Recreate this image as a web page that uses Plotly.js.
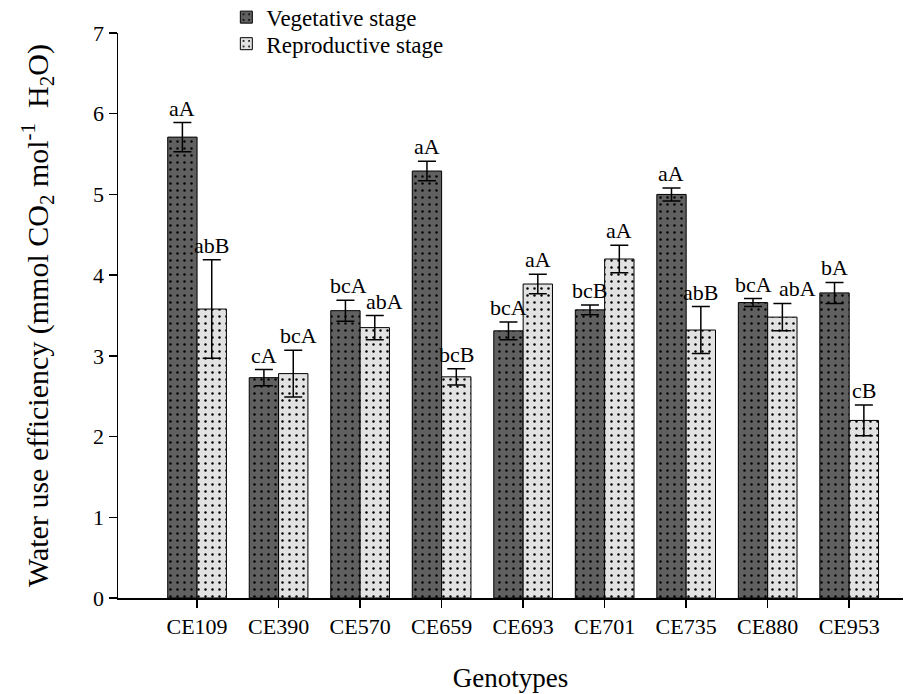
<!DOCTYPE html>
<html>
<head>
<meta charset="utf-8">
<script src="https://cdn.plot.ly/plotly-3.0.1.min.js"></script>
<style>html,body{margin:0;padding:0;background:#fff;}#chart{width:923px;height:694px;}</style>
</head>
<body>
<div id="chart"></div>
<script>
const genotypes = ["CE109","CE390","CE570","CE659","CE693","CE701","CE735","CE880","CE953"];
const vegValues = [5.71, 2.73, 3.56, 5.29, 3.31, 3.57, 5.00, 3.66, 3.78];
const vegErrors = [0.18, 0.10, 0.13, 0.12, 0.11, 0.06, 0.08, 0.05, 0.13];
const repValues = [3.58, 2.78, 3.35, 2.74, 3.89, 4.20, 3.32, 3.48, 2.20];
const repErrors = [0.61, 0.29, 0.15, 0.10, 0.12, 0.17, 0.29, 0.17, 0.19];
const vegLetters = ["aA","cA","bcA","aA","bcA","bcB","aA","bcA","bA"];
const repLetters = ["abB","bcA","abA","bcB","aA","aA","abB","abA","cB"];
const yTicks = [0,1,2,3,4,5,6,7];

const font = "Liberation Serif";
// small horizontal nudges (px) for labels that would otherwise collide
const repLabelShift = {"CE390": 5, "CE570": 10, "CE880": 15};
const vegLabelShift = {"CE570": 3};

const traces = [
  {
    type: "bar", name: "Vegetative stage", x: genotypes, y: vegValues, legend: "legend",
    marker: {color: "#606060", line: {color: "#000", width: 1},
      pattern: {shape: ".", fgcolor: "#000", bgcolor: "#606060", size: 7, solidity: 0.1}},
    error_y: {type: "data", array: vegErrors, visible: true, color: "#000", thickness: 1.5, width: 9}
  },
  {
    type: "bar", name: "Reproductive stage", x: genotypes, y: repValues, legend: "legend2",
    marker: {color: "#e2e2e2", line: {color: "#000", width: 1},
      pattern: {shape: ".", fgcolor: "#000", bgcolor: "#e2e2e2", size: 7, solidity: 0.1}},
    error_y: {type: "data", array: repErrors, visible: true, color: "#000", thickness: 1.5, width: 9}
  }
];

const annotations = [];
genotypes.forEach((g, i) => {
  annotations.push({x: i - 0.18, y: vegValues[i] + vegErrors[i], xref: "x", yref: "y",
    text: vegLetters[i], showarrow: false, yanchor: "bottom", yshift: 0, xshift: vegLabelShift[g] || 0,
    font: {family: font, size: 22, color: "#000"}});
  annotations.push({x: i + 0.18, y: repValues[i] + repErrors[i], xref: "x", yref: "y",
    text: repLetters[i], showarrow: false, yanchor: "bottom", yshift: 0, xshift: repLabelShift[g] || 0,
    font: {family: font, size: 22, color: "#000"}});
});

const legendCommon = {x: 0.138, xanchor: "left", yanchor: "middle",
  orientation: "v", font: {family: font, size: 23, color: "#000"}, bgcolor: "rgba(0,0,0,0)", tracegroupgap: 0};

const layout = {
  width: 923, height: 694,
  margin: {l: 118, r: 20, t: 33, b: 96, autoexpand: false},
  paper_bgcolor: "#fff", plot_bgcolor: "#fff",
  font: {family: font, size: 22, color: "#000"},
  barmode: "group", bargap: 0.28, bargroupgap: 0,
  showlegend: true,
  legend: Object.assign({}, legendCommon, {y: 1.028}),
  legend2: Object.assign({}, legendCommon, {y: 0.981}),
  xaxis: {
    type: "category", range: [-0.97, 8.66], showgrid: false, zeroline: false,
    showline: true, linecolor: "#000", linewidth: 1.5,
    ticks: "outside", ticklen: 8, tickwidth: 1.5, tickcolor: "#000",
    tickfont: {family: font, size: 22},
    title: {text: "Genotypes", font: {family: font, size: 27}, standoff: 30}
  },
  yaxis: {
    range: [0, 7], tickvals: yTicks, showgrid: false, zeroline: false,
    showline: true, linecolor: "#000", linewidth: 1.5,
    ticks: "outside", ticklen: 8, tickwidth: 1.5, tickcolor: "#000",
    tickfont: {family: font, size: 22},
    title: {text: "Water use efficiency (mmol CO<sub>2</sub> mol<sup>-1</sup>  H<sub>2</sub>O)", font: {family: font, size: 30}}
  },
  annotations: annotations
};

Plotly.newPlot("chart", traces, layout, {displayModeBar: false, staticPlot: true});
</script>
</body>
</html>
